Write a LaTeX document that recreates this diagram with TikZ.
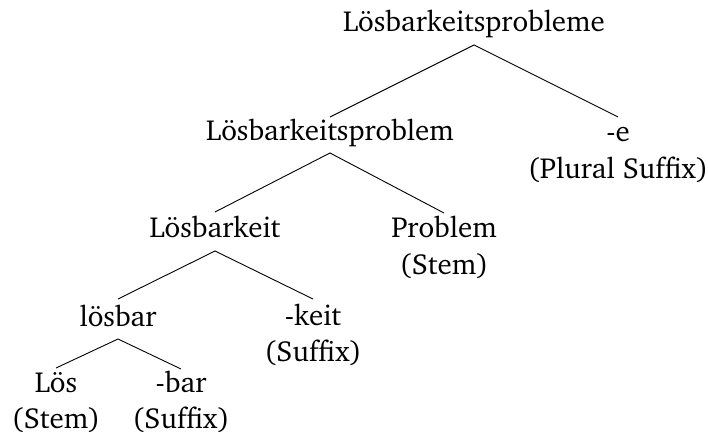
\documentclass[tikz,border=0pt]{standalone}
\usepackage[T1]{fontenc}
\usepackage{charter}
\begin{document}
\begin{tikzpicture}[x=1pt,y=-1pt,
  lbl/.style={font=\fontsize{29}{36.5}\selectfont, inner sep=0pt, anchor=base, align=center},
  edge/.style={line width=0.9pt}]
\useasboundingbox (0,0) rectangle (708,435);
% single-line nodes: placed at their baseline; two-line nodes: at the baseline of their last line
\node[lbl] (R) at (474,32) {L\"osbarkeitsprobleme};
\node[lbl] (A) at (330,141) {L\"osbarkeitsproblem};
\node[lbl] (E) at (618,178.5) {-e\\(Plural Suffix)};
\node[lbl] (B) at (215,237) {L\"osbarkeit};
\node[lbl] (P) at (444,274.5) {Problem\\(Stem)};
\node[lbl] (C) at (118,326) {l\"osbar};
\node[lbl] (K) at (313,361.5) {-keit\\(Suffix)};
\node[lbl] (L) at (56,428.5) {L\"os\\(Stem)};
\node[lbl] (S) at (181,428.5) {-bar\\(Suffix)};
\draw[edge] ([yshift=24pt]A.base) -- ([yshift=-13pt]R.base) -- ([yshift=61.5pt]E.base);
\draw[edge] ([yshift=25pt]B.base) -- ([yshift=-12pt]A.base) -- ([yshift=61.5pt]P.base);
\draw[edge] ([yshift=27pt]C.base) -- ([yshift=-14pt]B.base) -- ([yshift=62.5pt]K.base);
\draw[edge] ([yshift=60.5pt]L.base) -- ([yshift=-13pt]C.base) -- ([yshift=59.5pt]S.base);
\end{tikzpicture}
\end{document}
